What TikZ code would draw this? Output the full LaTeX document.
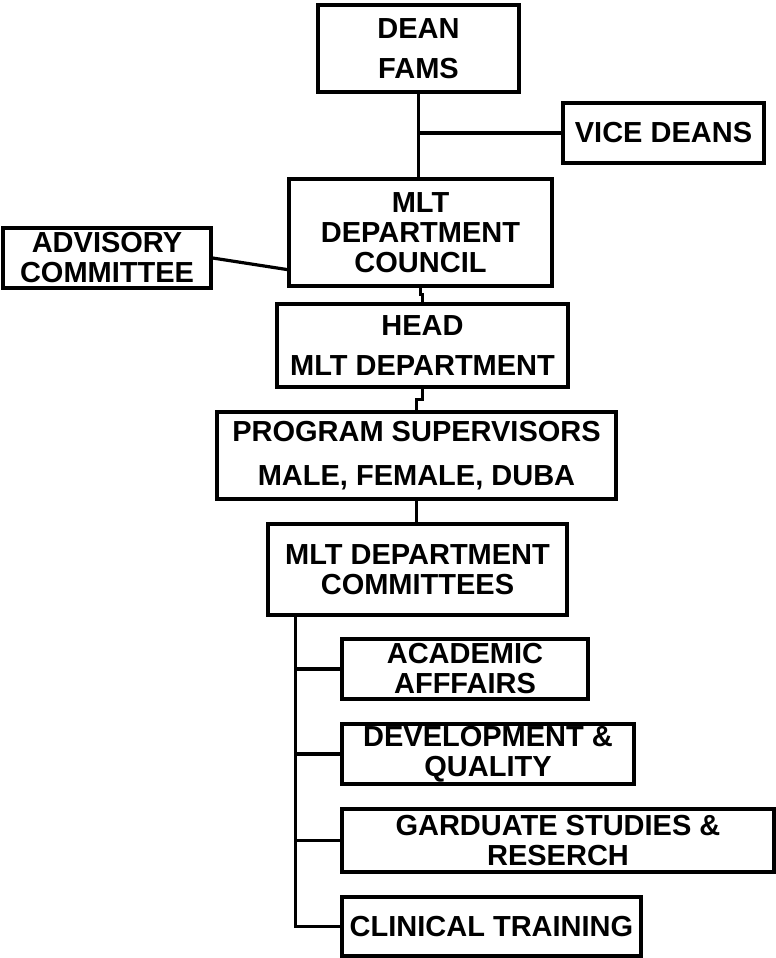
\documentclass[tikz,border=0pt]{standalone}
\usepackage{fontspec}
\setmainfont{Liberation Sans}
\begin{document}
\begin{tikzpicture}[x=1pt,y=-1pt,
  orgbox/.style={draw=black, line width=3.2pt, fill=white, inner sep=0pt,
    align=center, font=\bfseries\fontsize{29}{30}\selectfont},
  wide/.style={font=\bfseries\fontsize{29}{40}\selectfont},
  wider/.style={font=\bfseries\fontsize{29}{44}\selectfont},
  link/.style={draw=black, line width=3.2pt}]
\useasboundingbox[fill=white] (0,0) rectangle (776,958);

% top of the chart
\node[orgbox, wide, minimum width=201pt, minimum height=87pt] (dean) at (418.5,48.5) {DEAN\\FAMS};
\node[orgbox, minimum width=201pt, minimum height=60pt] (vice) at (663.5,133) {VICE DEANS};
\node[orgbox, minimum width=263pt, minimum height=107pt] (council) at (420.5,232.5) {MLT\\DEPARTMENT\\COUNCIL};
\node[orgbox, minimum width=208pt, minimum height=60pt] (advisory) at (107,258) {ADVISORY\\COMMITTEE};
\node[orgbox, wide, minimum width=291pt, minimum height=83pt] (head) at (422.5,345.5) {HEAD\\MLT DEPARTMENT};
\node[orgbox, wider, minimum width=399pt, minimum height=87pt] (ps) at (416.5,455.5) {PROGRAM SUPERVISORS\\MALE, FEMALE, DUBA};
\node[orgbox, minimum width=299pt, minimum height=91pt] (comm) at (417.5,569.5) {MLT DEPARTMENT\\COMMITTEES};

% committees
\node[orgbox, minimum width=246pt, minimum height=60pt] (acad) at (465,669) {ACADEMIC\\AFFFAIRS};
\node[orgbox, minimum width=292pt, minimum height=60pt] (dev) at (488,754) {DEVELOPMENT \&\\QUALITY};
\node[orgbox, minimum width=432pt, minimum height=63pt] (grad) at (558,840.5) {GARDUATE STUDIES \&\\RESERCH};
\node[orgbox, minimum width=299pt, minimum height=59pt] (clin) at (491.5,926.5) {CLINICAL TRAINING};

% connectors
\draw[link] (dean.south) -- (dean.south |- council.north);
\draw[link] (dean.south |- vice.west) -- (vice.west);
\draw[link] (advisory.east) -- ([yshift=18pt]council.south west);
\draw[link] (council.south) -- ++(0,7) -| (head.north);
\draw[link] (head.south) -- ++(0,11) -| (ps.north);
\draw[link] (ps.south) -- (ps.south |- comm.north);

\coordinate (trunk) at ([xshift=29pt]comm.south west);
\draw[link] (trunk) |- (clin.west);
\draw[link] (trunk |- acad.west) -- (acad.west);
\draw[link] (trunk |- dev.west) -- (dev.west);
\draw[link] (trunk |- grad.west) -- (grad.west);
\end{tikzpicture}
\end{document}
